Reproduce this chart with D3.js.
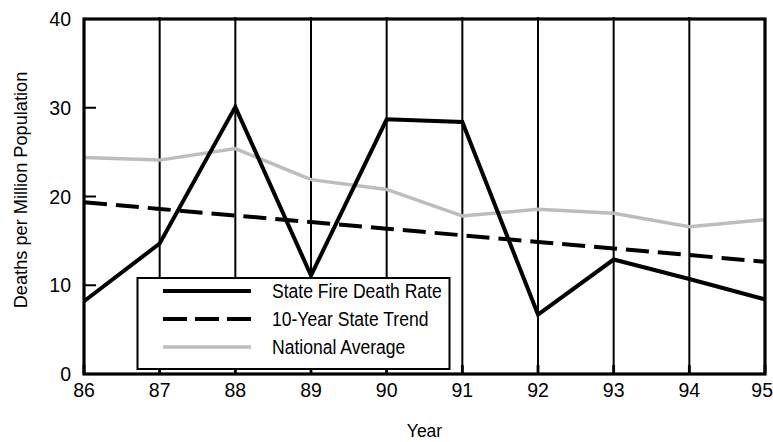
<!DOCTYPE html>
<html><head><meta charset="utf-8">
<script src="https://cdn.jsdelivr.net/npm/d3@7"></script>
<style>
html,body{margin:0;padding:0;background:#fff;}
text{font-family:"Liberation Sans",Arial,Helvetica,sans-serif;fill:#000;}
</style></head>
<body><svg id="c" width="773" height="442"></svg>
<script>
const years = [86,87,88,89,90,91,92,93,94,95];
const stateRate = [8.2,14.7,30.1,11.1,28.7,28.4,6.7,12.9,10.7,8.4];
const trend = [19.35,18.6,17.86,17.12,16.37,15.63,14.88,14.14,13.4,12.65];
const national = [24.4,24.1,25.4,21.9,20.8,17.8,18.55,18.1,16.6,17.4];
const yTicks = [0,10,20,30,40];
const seriesNames = ["State Fire Death Rate","10-Year State Trend","National Average"];

const svg = d3.select("#c");
const L=84, R=765, T=19, B=374;
const x = d3.scaleLinear().domain([86,95]).range([L,R]);
const y = d3.scaleLinear().domain([0,40]).range([B,T]);

// gridlines
svg.append("g").selectAll("line").data(years.slice(1,-1)).join("line")
  .attr("x1",d=>x(d)).attr("x2",d=>x(d)).attr("y1",T-2).attr("y2",B)
  .attr("stroke","#000").attr("stroke-width",2);
// bottom inward ticks
svg.append("g").selectAll("line").data(years).join("line")
  .attr("x1",d=>x(d)).attr("x2",d=>x(d)).attr("y1",B-9).attr("y2",B)
  .attr("stroke","#000").attr("stroke-width",2.8);
// left inward ticks
svg.append("g").selectAll("line").data(yTicks.slice(1,-1)).join("line")
  .attr("x1",L).attr("x2",L+12).attr("y1",d=>y(d)).attr("y2",d=>y(d))
  .attr("stroke","#000").attr("stroke-width",2);

const line = d3.line().x((d,i)=>x(years[i])).y(d=>y(d));
svg.append("path").datum(national).attr("d",line).attr("fill","none")
  .attr("stroke","#bdbdbd").attr("stroke-width",3.5);
svg.append("path").datum(trend).attr("d",line).attr("fill","none")
  .attr("stroke","#000").attr("stroke-width",4).attr("stroke-dasharray","23,9");
svg.append("path").datum(stateRate).attr("d",line).attr("fill","none")
  .attr("stroke","#000").attr("stroke-width",4).attr("stroke-linejoin","miter");

// frame
svg.append("rect").attr("x",L).attr("y",T).attr("width",R-L).attr("height",B-T)
  .attr("fill","none").attr("stroke","#000").attr("stroke-width",3.2);

// axis labels
svg.append("g").selectAll("text").data(yTicks).join("text")
  .attr("x",71).attr("y",d=>y(d)).attr("dy","0.36em").attr("text-anchor","end")
  .attr("font-size",19.5).text(d=>d);
svg.append("g").selectAll("text").data(years).join("text")
  .attr("x",d=>d===95 ? 773 : x(d)).attr("y",397)
  .attr("text-anchor",d=>d===95 ? "end" : "middle")
  .attr("font-size",19.5).text(d=>d);
svg.append("text").attr("x",(L+R)/2).attr("y",437).attr("text-anchor","middle")
  .attr("font-size",17.5).text("Year");
svg.append("text").attr("transform",`translate(27,190) rotate(-90)`)
  .attr("text-anchor","middle").attr("font-size",18.2).text("Deaths per Million Population");

// legend
const lg = svg.append("g");
lg.append("rect").attr("x",137.5).attr("y",278).attr("width",312).attr("height",91)
  .attr("fill","#fff").attr("stroke","#000").attr("stroke-width",2);
const styles = [
  {c:"#000",w:4,da:null},
  {c:"#000",w:4,da:"24,8"},
  {c:"#bdbdbd",w:3.5,da:null}
];
seriesNames.forEach((n,i)=>{
  const yy = 291 + i*28;
  lg.append("line").attr("x1",163).attr("x2",251).attr("y1",yy).attr("y2",yy)
    .attr("stroke",styles[i].c).attr("stroke-width",styles[i].w)
    .attr("stroke-dasharray",styles[i].da);
  lg.append("text").attr("transform",`translate(272,${yy}) scale(0.9,1)`)
    .attr("dy","0.36em").attr("font-size",19.5).text(n);
});
</script></body></html>
